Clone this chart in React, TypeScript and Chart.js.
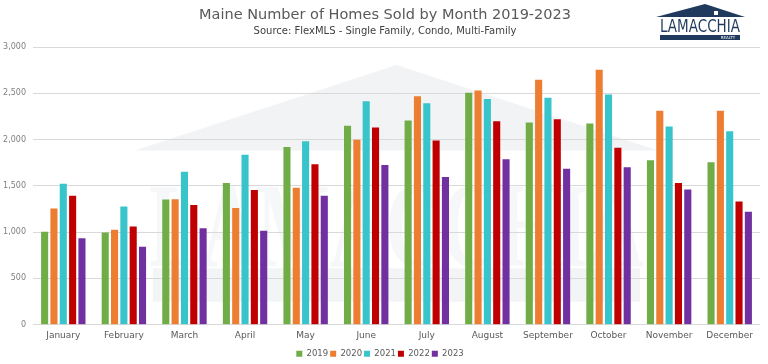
import React, { useEffect, useRef } from "react";
import { Chart, registerables } from "chart.js";

Chart.register(...registerables);

const months = ["January", "February", "March", "April", "May", "June", "July", "August", "September", "October", "November", "December"];
const years = ["2019", "2020", "2021", "2022", "2023"];
const sales2019 = [1005, 995, 1352, 1530, 1919, 2148, 2206, 2507, 2184, 2173, 1777, 1755];
const sales2020 = [1254, 1025, 1355, 1261, 1479, 1999, 2467, 2529, 2646, 2755, 2311, 2311];
const sales2021 = [1523, 1276, 1653, 1835, 1981, 2413, 2391, 2438, 2453, 2486, 2140, 2090];
const sales2022 = [1392, 1061, 1294, 1454, 1733, 2130, 1991, 2199, 2220, 1912, 1530, 1330];
const sales2023 = [934, 843, 1043, 1014, 1392, 1726, 1595, 1788, 1686, 1701, 1461, 1221];
const seriesColors = ["#70AD47", "#ED7D31", "#38C4CB", "#C00000", "#7030A0"];
const yMin = 0;
const yMax = 3000;
const yStep = 500;
const titleText = "Maine Number of Homes Sold by Month 2019-2023";
const subtitleText = "Source: FlexMLS - Single Family, Condo, Multi-Family";
const FONT = "'DejaVu Sans', sans-serif";

const watermarkPlugin = {
  id: "watermark",
  beforeDraw(chart: any) {
    const { ctx, chartArea } = chart;
    const { left, top, width: w, height: h } = chartArea;
    ctx.save();
    ctx.fillStyle = "rgba(232,235,239,0.6)";
    ctx.beginPath();
    ctx.moveTo(left + 0.14 * w, top + 0.373 * h);
    ctx.lineTo(left + 0.5 * w, top + 0.065 * h);
    ctx.lineTo(left + 0.86 * w, top + 0.373 * h);
    ctx.closePath();
    ctx.fill();
    ctx.fillStyle = "rgba(238,240,243,0.5)";
    ctx.font = `bold 120px 'Liberation Serif', serif`;
    ctx.textAlign = "center";
    ctx.textBaseline = "alphabetic";
    ctx.fillText("LAMACCHIA", left + 0.5 * w, top + 0.79 * h, 0.68 * w);
    ctx.fillStyle = "rgba(232,235,239,0.55)";
    ctx.fillRect(left + 0.165 * w, top + 0.797 * h, 0.67 * w, 0.12 * h);
    ctx.restore();
  },
};

const headerPlugin = {
  id: "header",
  afterDraw(chart: any) {
    const { ctx, width } = chart;
    ctx.save();
    ctx.textAlign = "center";
    ctx.textBaseline = "middle";
    ctx.fillStyle = "#595959";
    ctx.font = `14.5px ${FONT}`;
    ctx.fillText(titleText, width / 2 + 1, 15);
    ctx.fillStyle = "#404040";
    ctx.font = `10px ${FONT}`;
    ctx.fillText(subtitleText, width / 2 + 1, 31);
    // logo
    const navy = "#1F3A5C";
    ctx.fillStyle = navy;
    ctx.beginPath();
    ctx.moveTo(656, 17);
    ctx.lineTo(705, 4);
    ctx.lineTo(745, 17);
    ctx.closePath();
    ctx.fill();
    ctx.fillStyle = "#ffffff";
    ctx.fillRect(714, 11, 4, 4);
    ctx.fillStyle = navy;
    ctx.font = `18px 'Liberation Sans Narrow', 'DejaVu Sans Condensed', sans-serif`;
    ctx.textAlign = "center";
    ctx.textBaseline = "middle";
    ctx.fillText("LAMACCHIA", 700, 27, 80);
    ctx.fillRect(660, 35, 80, 5);
    ctx.fillStyle = "#ffffff";
    ctx.font = `4px ${FONT}`;
    ctx.fillText("REALTY", 728, 37.5);
    ctx.restore();
  },
};

export default function App() {
  const ref = useRef<HTMLCanvasElement | null>(null);
  useEffect(() => {
    document.body.style.margin = "0";
    const data = [sales2019, sales2020, sales2021, sales2022, sales2023];
    const chart = new Chart(ref.current as HTMLCanvasElement, {
      type: "bar",
      data: {
        labels: months,
        datasets: years.map((y, i) => ({
          label: y,
          data: data[i],
          backgroundColor: seriesColors[i],
          borderWidth: 0,
          barPercentage: 0.76,
          categoryPercentage: 0.77,
        })),
      },
      options: {
        animation: false,
        responsive: false,
        maintainAspectRatio: false,
        layout: { padding: { top: 47, right: 8, left: 0, bottom: -4 } },
        plugins: {
          title: { display: false },
          tooltip: { enabled: false },
          legend: {
            position: "bottom",
            labels: {
              boxWidth: 6,
              boxHeight: 6,
              padding: 2,
              color: "#595959",
              font: { family: FONT, size: 8.5 },
            },
          },
        },
        scales: {
          x: {
            grid: { display: false, drawTicks: false },
            border: { display: false },
            ticks: { color: "#595959", font: { family: FONT, size: 9 }, maxRotation: 0, autoSkip: false, padding: 6 },
          },
          y: {
            min: yMin,
            max: yMax,
            afterFit(scale: any) {
              scale.width = 33;
            },
            grid: { color: "#d9d9d9", lineWidth: 1, drawTicks: false },
            border: { display: false },
            ticks: {
              stepSize: yStep,
              padding: 7,
              color: "#7f7f7f",
              font: { family: FONT, size: 8 },
              callback: (v: any) => Number(v).toLocaleString("en-US"),
            },
          },
        },
      },
      plugins: [watermarkPlugin, headerPlugin],
    });
    return () => chart.destroy();
  }, []);
  return <canvas ref={ref} width={768} height={364} style={{ display: "block" }} />;
}
